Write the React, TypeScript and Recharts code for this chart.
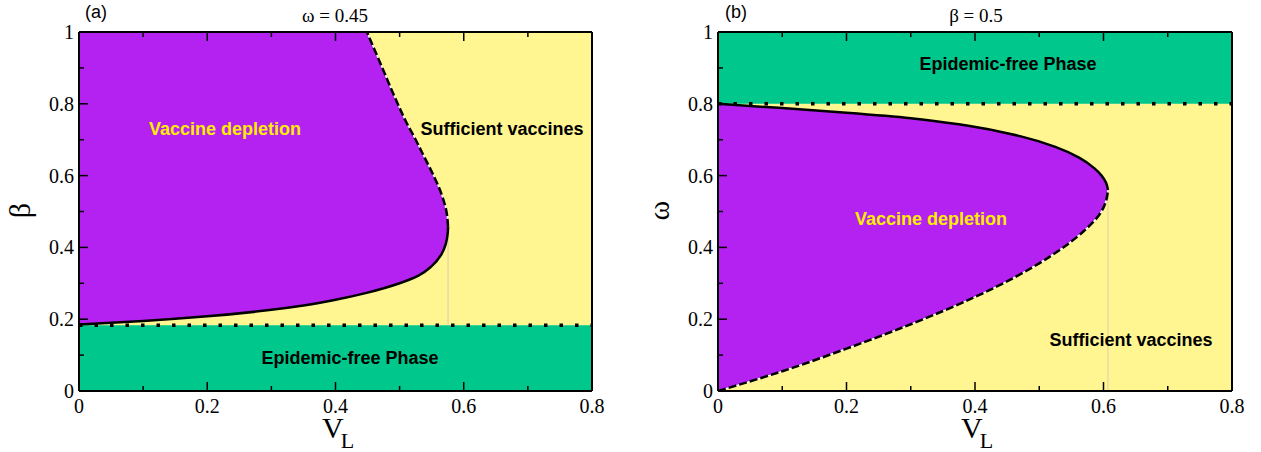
import React from 'react';
import { ComposedChart, Area, Line, XAxis, YAxis, ReferenceArea, ReferenceLine } from 'recharts';

// ---- shared ticks ----
const xTicks = [0, 0.1, 0.2, 0.3, 0.4, 0.5, 0.6, 0.7, 0.8];
const yTicks = [0, 0.1, 0.2, 0.3, 0.4, 0.5, 0.6, 0.7, 0.8, 0.9, 1];

// ---- panel (a): omega = 0.45, y = beta ----
const aLowerBeta = [0.185, 0.195, 0.208, 0.226, 0.238, 0.254, 0.274, 0.3, 0.322, 0.348, 0.38, 0.41, 0.44, 0.457];
const aLowerVL = [0, 0.1, 0.2, 0.3, 0.35, 0.4, 0.45, 0.5, 0.53, 0.55, 0.565, 0.572, 0.575, 0.5755];
const aUpperBeta = [0.457, 0.5, 0.55, 0.6, 0.65, 0.7, 0.75, 0.8, 0.9, 1.0];
const aUpperVL = [0.5755, 0.573, 0.565, 0.553, 0.539, 0.525, 0.51, 0.497, 0.473, 0.449];
const aThreshold = 0.183;
const aNose = { x: 0.5755, y: 0.457 };

// ---- panel (b): beta = 0.5, y = omega ----
const bLowerOmega = [0, 0.055, 0.118, 0.186, 0.262, 0.315, 0.375, 0.445, 0.495, 0.53, 0.56];
const bLowerVL = [0, 0.1, 0.2, 0.3, 0.4, 0.46, 0.517, 0.569, 0.595, 0.604, 0.607];
const bUpperOmega = [0.56, 0.58, 0.6, 0.62, 0.65, 0.68, 0.71, 0.74, 0.76, 0.775, 0.788, 0.8];
const bUpperVL = [0.607, 0.604, 0.597, 0.586, 0.562, 0.525, 0.47, 0.385, 0.3, 0.2, 0.1, 0];
const bThreshold = 0.8;
const bNose = { x: 0.607, y: 0.56 };

const PURPLE = '#b422f2';
const YELLOW = '#fff591';
const GREEN = '#00c78c';

const toRows = (ys: number[], xs: number[]) => ys.map((y, i) => ({ y, x: xs[i] }));

const fmt = (v: number) => (v === 0 ? '0' : v === 1 ? '1' : String(v));
const isMajor = (v: number) => Math.round(v * 10) % 2 === 0;

const SERIF = '"Liberation Serif", "DejaVu Serif", serif';
const SANS = '"Liberation Sans", Arial, sans-serif';

const tickFactory = (side: 'bottom' | 'top' | 'left' | 'right') => (props: any) => {
  const { x, y, payload } = props;
  const v = payload.value as number;
  const len = isMajor(v) ? 9 : 5;
  let line;
  let label = null;
  if (side === 'bottom') {
    line = <line x1={x} y1={y} x2={x} y2={y - len} stroke="#000" strokeWidth={1.5} />;
    if (isMajor(v))
      label = (
        <text x={x} y={y + 22} textAnchor="middle" fontFamily={SERIF} fontSize={20} fill="#000">
          {fmt(v)}
        </text>
      );
  } else if (side === 'top') {
    line = <line x1={x} y1={y} x2={x} y2={y + len} stroke="#000" strokeWidth={1.5} />;
  } else if (side === 'left') {
    line = <line x1={x} y1={y} x2={x + len} y2={y} stroke="#000" strokeWidth={1.5} />;
    if (isMajor(v))
      label = (
        <text x={x - 5} y={y + 7} textAnchor="end" fontFamily={SERIF} fontSize={20} fill="#000">
          {fmt(v)}
        </text>
      );
  } else {
    line = <line x1={x} y1={y} x2={x - len} y2={y} stroke="#000" strokeWidth={1.5} />;
  }
  return (
    <g>
      {line}
      {label}
    </g>
  );
};

type PanelProps = {
  width: number;
  rightPad: number;
  lowerY: number[];
  lowerX: number[];
  upperY: number[];
  upperX: number[];
  solid: 'lower' | 'upper';
  threshold: number;
  greenFrom: number;
  greenTo: number;
  nose: { x: number; y: number };
  stemFrom: number;
};

const Panel = (p: PanelProps) => {
  const lower = toRows(p.lowerY, p.lowerX);
  const upper = toRows(p.upperY, p.upperX);
  const region = [...lower, ...upper.slice(1)];
  const solidRows = p.solid === 'lower' ? lower : upper;
  const dashedRows = p.solid === 'lower' ? upper : lower;
  const axisLine = { stroke: '#000', strokeWidth: 2 };
  return (
    <ComposedChart
      width={p.width}
      height={452}
      layout="vertical"
      margin={{ top: 20, right: 0, bottom: 0, left: 0 }}
    >
      <XAxis
        type="number"
        dataKey="x"
        domain={[0, 0.8]}
        ticks={xTicks}
        interval={0}
        allowDataOverflow
        height={61}
        tickLine={false}
        tickSize={0}
        tickMargin={0}
        axisLine={axisLine}
        tick={tickFactory('bottom')}
      />
      <XAxis
        xAxisId="top"
        orientation="top"
        type="number"
        domain={[0, 0.8]}
        ticks={xTicks}
        interval={0}
        allowDataOverflow
        height={12}
        tickLine={false}
        tickSize={0}
        tickMargin={0}
        axisLine={axisLine}
        tick={tickFactory('top')}
      />
      <YAxis
        type="number"
        dataKey="y"
        domain={[0, 1]}
        reversed
        ticks={yTicks}
        interval={0}
        allowDataOverflow
        width={79}
        tickLine={false}
        tickSize={0}
        tickMargin={0}
        axisLine={axisLine}
        tick={tickFactory('left')}
      />
      <YAxis
        yAxisId="right"
        orientation="right"
        type="number"
        domain={[0, 1]}
        reversed
        ticks={yTicks}
        interval={0}
        allowDataOverflow
        width={p.rightPad}
        tickLine={false}
        tickSize={0}
        tickMargin={0}
        axisLine={axisLine}
        tick={tickFactory('right')}
      />
      <ReferenceArea x1={0} x2={0.8} y1={0} y2={1} fill={YELLOW} fillOpacity={1} stroke="none" zIndex={10} />
      <ReferenceArea x1={0} x2={0.8} y1={p.greenFrom} y2={p.greenTo} fill={GREEN} fillOpacity={1} stroke="none" zIndex={20} />
      <Area
        data={region}
        dataKey="x"
        type="monotone"
        fill={PURPLE}
        fillOpacity={1}
        stroke="none"
        isAnimationActive={false}
        zIndex={100}
      />
      <ReferenceLine
        segment={[
          { x: p.nose.x, y: p.stemFrom },
          { x: p.nose.x, y: p.nose.y },
        ]}
        stroke="#e8c6b6"
        strokeWidth={1}
        zIndex={150}
      />
      <Line
        data={dashedRows}
        dataKey="x"
        type="monotone"
        dot={false}
        stroke="#ffffff"
        strokeWidth={1.2}
        isAnimationActive={false}
        zIndex={390}
      />
      <Line
        data={dashedRows}
        dataKey="x"
        type="monotone"
        dot={false}
        stroke="#000"
        strokeWidth={2.5}
        strokeDasharray="8 3"
        isAnimationActive={false}
        zIndex={400}
      />
      <Line
        data={solidRows}
        dataKey="x"
        type="monotone"
        dot={false}
        stroke="#000"
        strokeWidth={2.5}
        isAnimationActive={false}
        zIndex={400}
      />
      <ReferenceLine
        y={p.threshold}
        stroke="#000"
        strokeWidth={3.5}
        strokeDasharray="3.5 12"
        zIndex={450}
      />
    </ComposedChart>
  );
};

const App = () => {
  return (
    <div style={{ position: 'absolute', left: 0, top: 0, width: 1261, height: 452, background: '#fff', overflow: 'hidden' }}>
      <div style={{ position: 'absolute', left: 0, top: 0 }}>
        <Panel
          width={639}
          rightPad={47}
          lowerY={aLowerBeta}
          lowerX={aLowerVL}
          upperY={aUpperBeta}
          upperX={aUpperVL}
          solid="lower"
          threshold={aThreshold}
          greenFrom={0}
          greenTo={aThreshold}
          nose={aNose}
          stemFrom={aThreshold}
        />
      </div>
      <div style={{ position: 'absolute', left: 639, top: 0 }}>
        <Panel
          width={622}
          rightPad={29}
          lowerY={bLowerOmega}
          lowerX={bLowerVL}
          upperY={bUpperOmega}
          upperX={bUpperVL}
          solid="upper"
          threshold={bThreshold}
          greenFrom={bThreshold}
          greenTo={1}
          nose={bNose}
          stemFrom={0}
        />
      </div>
      <svg
        width={1261}
        height={452}
        style={{ position: 'absolute', left: 0, top: 0, pointerEvents: 'none' }}
      >
        {/* panel (a) */}
        <text x={96} y={18} textAnchor="middle" fontFamily={SANS} fontSize={18} fill="#000">(a)</text>
        <text x={335} y={22} textAnchor="middle" fontFamily={SERIF} fontSize={19} fill="#000">ω = 0.45</text>
        <text x={30} y={210.5} textAnchor="middle" fontFamily={SERIF} fontSize={30} fill="#000" transform="rotate(-90 30 210.5)">β</text>
        <text x={322} y={438} fontFamily={SERIF} fontSize={30} fill="#000">
          V<tspan fontSize={22} dx={-3} dy={10}>L</tspan>
        </text>
        <text x={225} y={134.5} textAnchor="middle" fontFamily={SANS} fontWeight="bold" fontSize={18} fill="#ffee00">Vaccine depletion</text>
        <text x={502} y={135} textAnchor="middle" fontFamily={SANS} fontWeight="bold" fontSize={18} fill="#000">Sufficient vaccines</text>
        <text x={350} y={364} textAnchor="middle" fontFamily={SANS} fontWeight="bold" fontSize={18} fill="#000">Epidemic-free Phase</text>
        {/* panel (b) */}
        <text x={736} y={18} textAnchor="middle" fontFamily={SANS} fontSize={18} fill="#000">(b)</text>
        <text x={976} y={22} textAnchor="middle" fontFamily={SERIF} fontSize={19} fill="#000">β = 0.5</text>
        <text x={669} y={210.5} textAnchor="middle" fontFamily={SERIF} fontSize={30} fill="#000" transform="rotate(-90 669 210.5)">ω</text>
        <text x={961} y={438} fontFamily={SERIF} fontSize={30} fill="#000">
          V<tspan fontSize={22} dx={-3} dy={10}>L</tspan>
        </text>
        <text x={1008} y={70} textAnchor="middle" fontFamily={SANS} fontWeight="bold" fontSize={18} fill="#000">Epidemic-free Phase</text>
        <text x={931} y={224.5} textAnchor="middle" fontFamily={SANS} fontWeight="bold" fontSize={18} fill="#ffee00">Vaccine depletion</text>
        <text x={1131} y={346} textAnchor="middle" fontFamily={SANS} fontWeight="bold" fontSize={18} fill="#000">Sufficient vaccines</text>
      </svg>
    </div>
  );
};

export default App;
